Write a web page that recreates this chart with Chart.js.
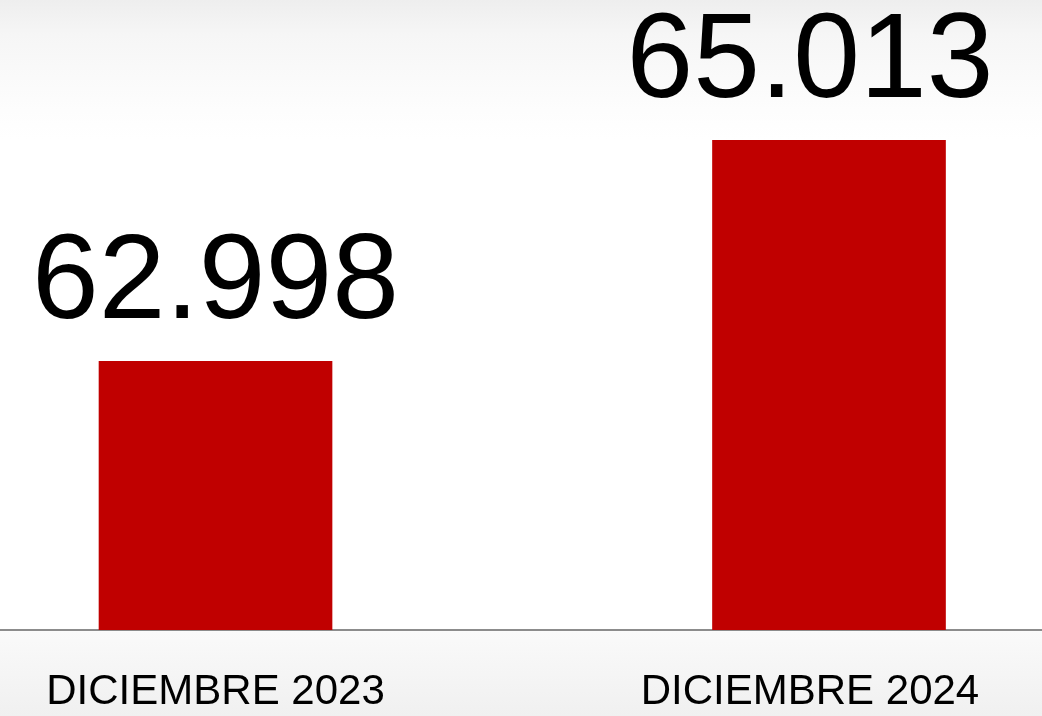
<!DOCTYPE html>
<html lang="es">
<head>
<meta charset="utf-8">
<title>Diciembre 2023 vs 2024</title>
<script src="https://cdn.jsdelivr.net/npm/chart.js@4.4.1/dist/chart.umd.min.js"></script>
<style>
    html, body { margin: 0; padding: 0; }
    body {
        width: 1042px;
        height: 716px;
        overflow: hidden;
        background: linear-gradient(to bottom,
            #eeeeee 0px, #f6f6f6 35px, #fdfdfd 110px, #ffffff 140px,
            #ffffff 629px, #fafafa 632px, #f0f0f0 716px);
    }
    #wrap { position: relative; width: 1042px; height: 716px; }
</style>
</head>
<body>
<div id="wrap"><canvas id="barChart"></canvas></div>
<script>
const categories = ['DICIEMBRE 2023', 'DICIEMBRE 2024'];
const valores = [62998, 65013];
const posiciones = [1, 2]; // posición de cada barra en el eje x
const desplazamientoTexto = [0, -19]; // px, el texto del 2024 va un poco a la izquierda

function formato(n) {
    return String(n).replace(/\B(?=(\d{3})+(?!\d))/g, '.');
}

// etiquetas grandes encima de cada barra
const etiquetasValor = {
    id: 'etiquetasValor',
    afterDatasetsDraw(chart) {
        const c = chart.ctx;
        const meta = chart.getDatasetMeta(0);
        c.save();
        c.font = '120px "Liberation Sans", Arial, sans-serif';
        c.fillStyle = '#000000';
        c.textAlign = 'center';
        c.textBaseline = 'alphabetic';
        meta.data.forEach((bar, i) => {
            c.fillText(formato(valores[i]), bar.x + desplazamientoTexto[i], bar.y - 43);
        });
        c.restore();
    }
};

document.addEventListener('DOMContentLoaded', () => {
    const ctx = document.getElementById('barChart').getContext('2d');
    new Chart(ctx, {
        type: 'bar',
        data: {
            datasets: [{
                label: 'Afiliados',
                data: valores.map((v, i) => ({ x: posiciones[i], y: v })),
                backgroundColor: '#c00000',
                borderWidth: 0,
                barThickness: 233
            }]
        },
        options: {
            responsive: true,
            maintainAspectRatio: false,
            animation: false,
            layout: { padding: 0 },
            plugins: {
                legend: { display: false },
                tooltip: { enabled: false },
                title: { display: false }
            },
            scales: {
                x: {
                    type: 'linear',
                    offset: false,
                    min: 0.6487,
                    max: 2.3472,
                    grid: { display: false, drawTicks: false, offset: false },
                    border: { display: true, color: '#8c8c8c', width: 2 },
                    afterBuildTicks: scale => {
                        scale.ticks = posiciones.map((p, i) => ({
                            value: p + desplazamientoTexto[i] / 613.5
                        }));
                    },
                    afterFit: scale => { scale.height = 86; },
                    ticks: {
                        autoSkip: false,
                        maxRotation: 0,
                        padding: 37,
                        color: '#000000',
                        font: { family: '"Liberation Sans", Arial, sans-serif', size: 42, lineHeight: 1.2 },
                        callback: (value, index) => categories[index]
                    }
                },
                y: {
                    display: false,
                    min: 60548,
                    max: 66292
                }
            }
        },
        plugins: [etiquetasValor]
    });
});
</script>
</body>
</html>
